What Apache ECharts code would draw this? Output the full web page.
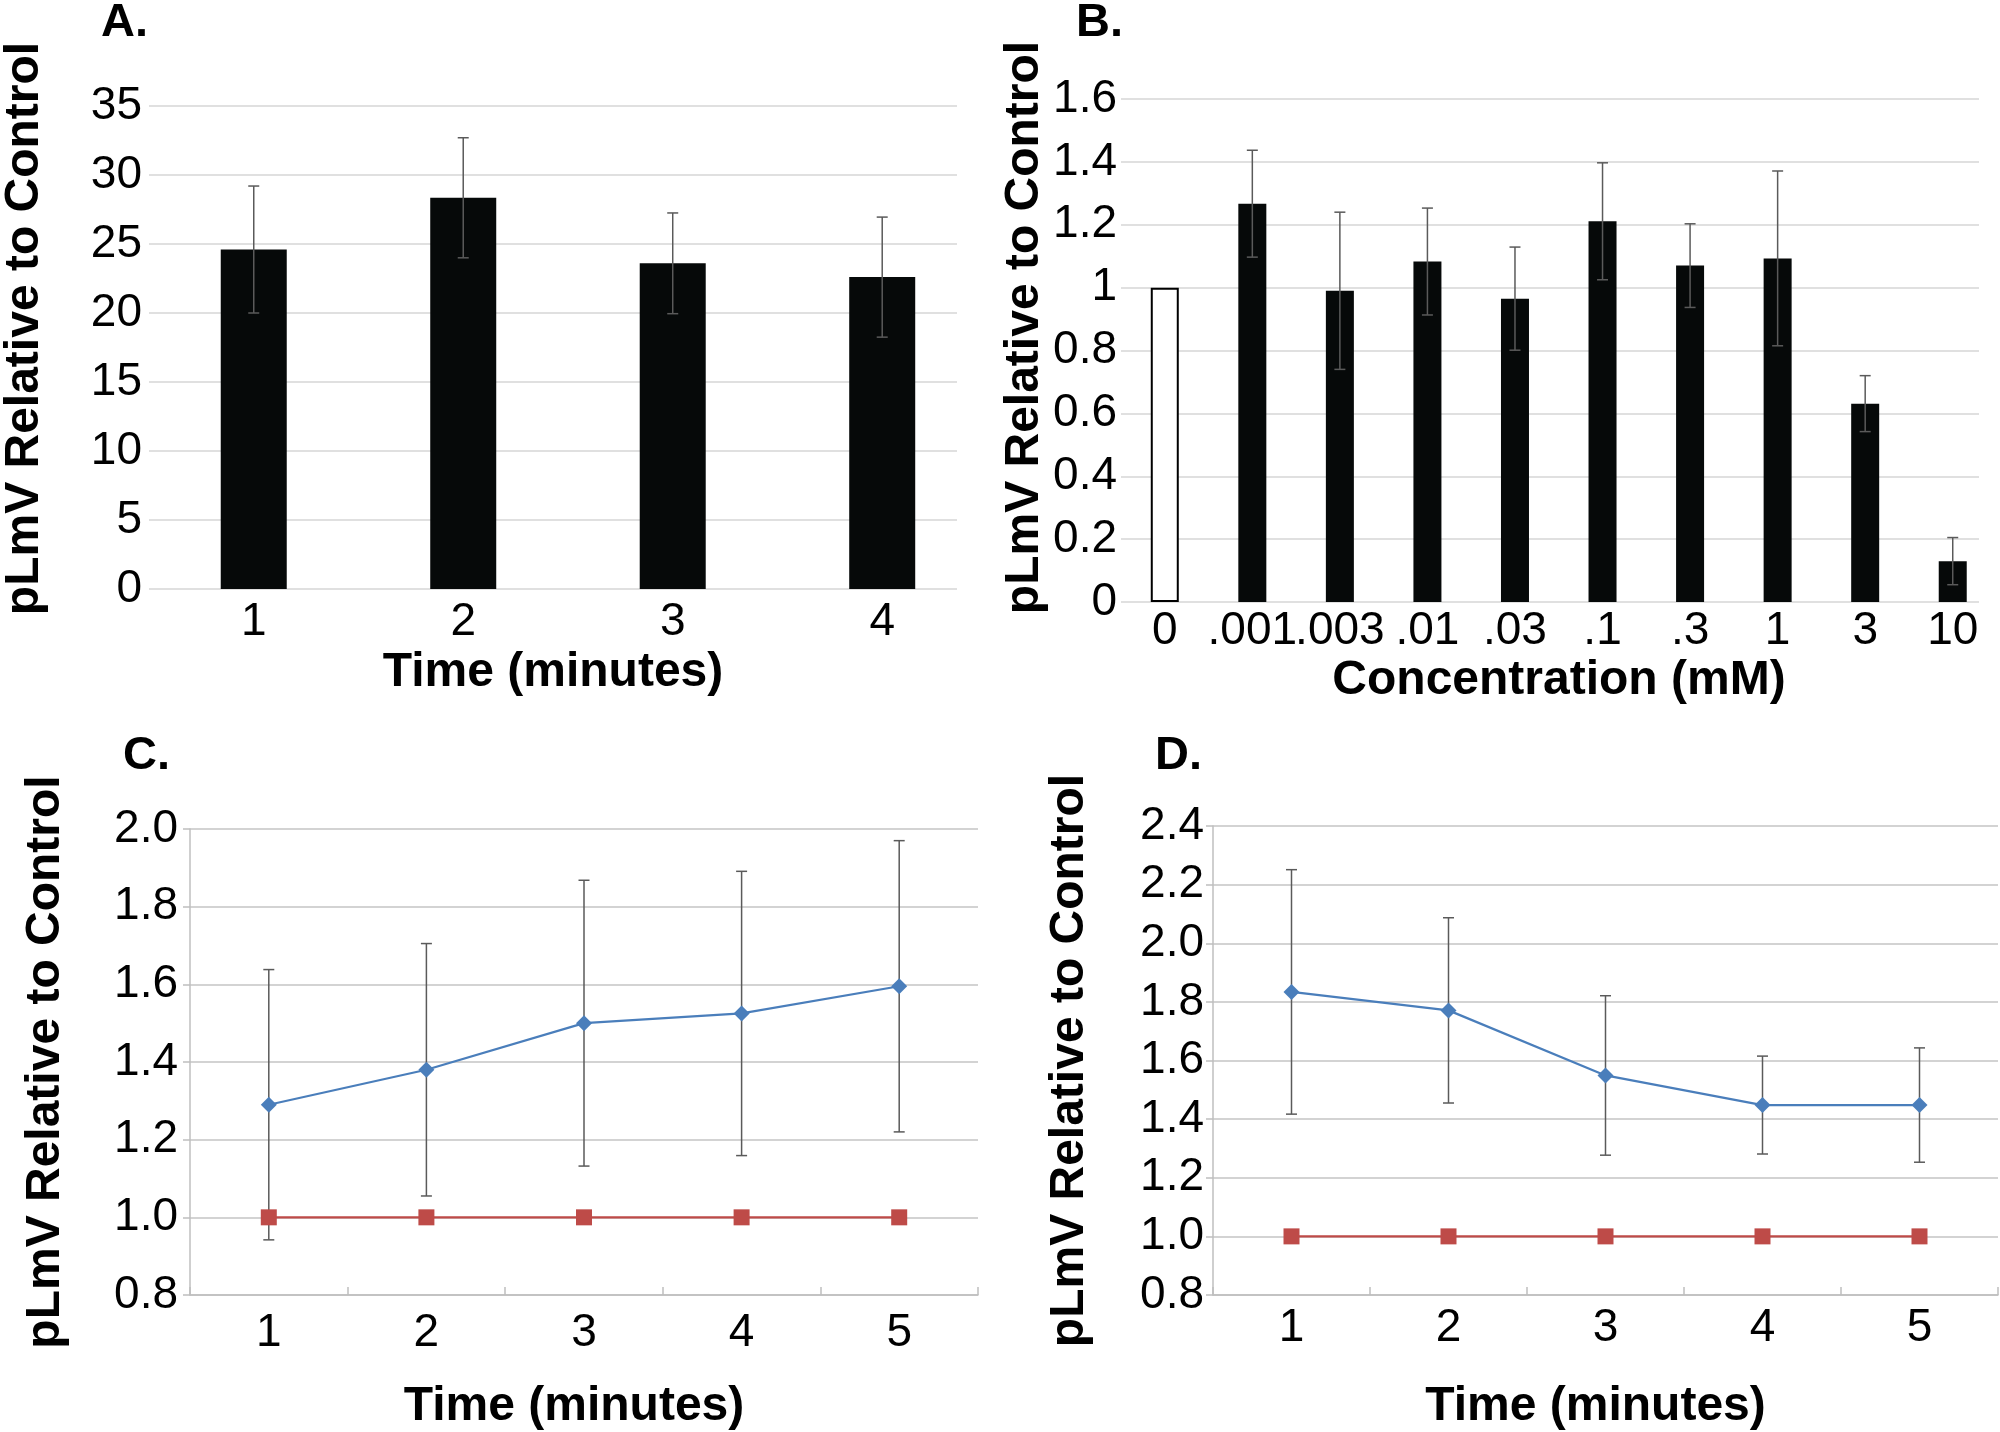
<!DOCTYPE html>
<html>
<head>
<meta charset="utf-8">
<script src="https://cdn.jsdelivr.net/npm/echarts@6/dist/echarts.min.js"></script>
<style>html,body{margin:0;padding:0;background:#fff;}#c{width:2000px;height:1432px;}</style>
</head>
<body>
<div id="c"></div>
<script>
// ---- data ----
const timeA = ['1', '2', '3', '4'];
const meanA = [24.6, 28.35, 23.6, 22.6];
const errA = [4.6, 4.35, 3.65, 4.35];

const concB = ['0', '.001', '.003', '.01', '.03', '.1', '.3', '1', '3', '10'];
const meanB = [1.0, 1.267, 0.99, 1.083, 0.965, 1.211, 1.07, 1.093, 0.631, 0.13];
const errB = [0, 0.17, 0.25, 0.17, 0.164, 0.186, 0.133, 0.278, 0.089, 0.075];

const timeCD = ['1', '2', '3', '4', '5'];
const meanC = [1.29, 1.38, 1.50, 1.525, 1.595];
const errC = [0.348, 0.325, 0.368, 0.366, 0.375];
const ctrlC = [1.0, 1.0, 1.0, 1.0, 1.0];

const meanD = [1.834, 1.771, 1.549, 1.448, 1.448];
const errD = [0.417, 0.316, 0.272, 0.167, 0.195];
const ctrlD = [1.0, 1.0, 1.0, 1.0, 1.0];

const yTitle = 'pLmV Relative to Control';

// ---- styles ----
const FONT = "'Liberation Sans', Arial, Helvetica, sans-serif";
const tickFont = { fontFamily: FONT, fontSize: 46, color: '#000' };
const nameFont = (pad) => ({ fontFamily: FONT, fontSize: 48, fontWeight: 'bold', color: '#000', padding: pad || 0 });
const BAR = '#060909';
const BLUE = '#4a7ebb';
const RED = '#be4b48';
const ERR = '#5a5a5a';

function errRender(halfCap) {
  return function (params, api) {
    const x = api.value(0), lo = api.value(1), hi = api.value(2);
    if (!(hi - lo > 0)) return;
    const t = api.coord([x, hi]);
    const b = api.coord([x, lo]);
    const st = { stroke: ERR, lineWidth: 1.5 };
    return {
      type: 'group',
      children: [
        { type: 'line', shape: { x1: t[0], y1: t[1], x2: b[0], y2: b[1] }, style: st },
        { type: 'line', shape: { x1: t[0] - halfCap, y1: t[1], x2: t[0] + halfCap, y2: t[1] }, style: st },
        { type: 'line', shape: { x1: b[0] - halfCap, y1: b[1], x2: b[0] + halfCap, y2: b[1] }, style: st }
      ]
    };
  };
}

const chart = echarts.init(document.getElementById('c'), null, { renderer: 'canvas', width: 2000, height: 1432 });

const letter = (t, left, top) => ({
  text: t, left: left, top: top, padding: 0,
  textStyle: { fontFamily: FONT, fontSize: 47, fontWeight: 'bold', color: '#000', lineHeight: 47 }
});

const option = {
  animation: false,
  backgroundColor: '#fff',
  title: [
    letter('A.', 101, 0),
    letter('B.', 1076, 0),
    letter('C.', 123, 733),
    letter('D.', 1155, 733)
  ],
  grid: [
    { left: 147, top: 106, width: 810, height: 483 },
    { left: 1121, top: 99, width: 858, height: 503 },
    { left: 190, top: 829, width: 788, height: 469 },
    { left: 1213, top: 826, width: 785, height: 469 }
  ],
  xAxis: [
    {
      gridIndex: 0, type: 'value', min: 0.5, max: 4.357,
      axisLine: { show: false }, axisTick: { show: false }, splitLine: { show: false },
      axisLabel: Object.assign({ customValues: [1, 2, 3, 4], formatter: v => timeA[Math.round(v) - 1], margin: 10 }, tickFont),
      name: 'Time (minutes)', nameLocation: 'middle', nameGap: 60, nameTextStyle: nameFont(0)
    },
    {
      gridIndex: 1, type: 'value', min: -0.5, max: 9.3,
      axisLine: { show: false }, axisTick: { show: false }, splitLine: { show: false },
      axisLabel: Object.assign({ customValues: [0, 1, 2, 3, 4, 5, 6, 7, 8, 9], formatter: v => concB[Math.round(v)], margin: 6 }, tickFont),
      name: 'Concentration (mM)', nameLocation: 'middle', nameGap: 55, nameTextStyle: nameFont([0, 0, 0, 18])
    },
    {
      gridIndex: 2, type: 'category', data: timeCD, boundaryGap: true,
      axisLine: { show: true, lineStyle: { color: '#bfbfbf', width: 1.5 } },
      axisTick: { show: true, inside: true, length: 8, lineStyle: { color: '#bfbfbf', width: 1.5 } },
      splitLine: { show: false },
      axisLabel: Object.assign({ margin: 15 }, tickFont),
      name: 'Time (minutes)', nameLocation: 'middle', nameGap: 88, nameTextStyle: nameFont([0, 20, 0, 0])
    },
    {
      gridIndex: 3, type: 'category', data: timeCD, boundaryGap: true,
      axisLine: { show: true, lineStyle: { color: '#bfbfbf', width: 1.5 } },
      axisTick: { show: true, inside: true, length: 8, lineStyle: { color: '#bfbfbf', width: 1.5 } },
      splitLine: { show: false },
      axisLabel: Object.assign({ margin: 10 }, tickFont),
      name: 'Time (minutes)', nameLocation: 'middle', nameGap: 88, nameTextStyle: nameFont([0, 20, 0, 0])
    }
  ],
  yAxis: [
    {
      gridIndex: 0, type: 'value', min: 0, max: 35, interval: 5,
      axisLine: { show: false }, axisTick: { show: false },
      splitLine: { show: true, lineStyle: { color: '#d6d6d6', width: 1.5 } },
      axisLabel: Object.assign({ margin: 7 }, tickFont),
      name: yTitle, nameLocation: 'middle', nameGap: 100, nameTextStyle: nameFont([0, 0, 0, 38])
    },
    {
      gridIndex: 1, type: 'value', min: 0, max: 1.6, interval: 0.2,
      axisLine: { show: false }, axisTick: { show: false },
      splitLine: { show: true, lineStyle: { color: '#d6d6d6', width: 1.5 } },
      axisLabel: Object.assign({ margin: 4 }, tickFont),
      name: yTitle, nameLocation: 'middle', nameGap: 69, nameTextStyle: nameFont([0, 0, 0, 46])
    },
    {
      gridIndex: 2, type: 'value', min: 0.8, max: 2.0, interval: 0.2,
      axisLine: { show: true, lineStyle: { color: '#bfbfbf', width: 1.5 } },
      axisTick: { show: true, inside: false, length: 7, lineStyle: { color: '#bfbfbf', width: 1.5 } },
      splitLine: { show: true, lineStyle: { color: '#c4c4c4', width: 1.5 } },
      axisLabel: Object.assign({ margin: 12, formatter: v => v.toFixed(1) }, tickFont),
      name: yTitle, nameLocation: 'middle', nameGap: 120, nameTextStyle: nameFont(0)
    },
    {
      gridIndex: 3, type: 'value', min: 0.8, max: 2.4, interval: 0.2,
      axisLine: { show: true, lineStyle: { color: '#bfbfbf', width: 1.5 } },
      axisTick: { show: true, inside: false, length: 7, lineStyle: { color: '#bfbfbf', width: 1.5 } },
      splitLine: { show: true, lineStyle: { color: '#c4c4c4', width: 1.5 } },
      axisLabel: Object.assign({ margin: 9, formatter: v => v.toFixed(1) }, tickFont),
      name: yTitle, nameLocation: 'middle', nameGap: 119, nameTextStyle: nameFont(0)
    }
  ],
  series: [
    {
      type: 'bar', xAxisIndex: 0, yAxisIndex: 0, barWidth: 66,
      itemStyle: { color: BAR },
      data: meanA.map((v, i) => [i + 1, v])
    },
    {
      type: 'custom', xAxisIndex: 0, yAxisIndex: 0, z: 5,
      renderItem: errRender(5.5),
      data: meanA.map((v, i) => [i + 1, v - errA[i], v + errA[i]])
    },
    {
      type: 'bar', xAxisIndex: 1, yAxisIndex: 1, barWidth: 28,
      itemStyle: { color: BAR },
      data: meanB.map((v, i) => i === 0
        ? { value: [i, v], itemStyle: { color: '#ffffff', borderColor: '#000', borderWidth: 2 } }
        : [i, v])
    },
    {
      type: 'custom', xAxisIndex: 1, yAxisIndex: 1, z: 5,
      renderItem: errRender(5.5),
      data: meanB.map((v, i) => [i, v - errB[i], v + errB[i]])
    },
    {
      type: 'custom', xAxisIndex: 2, yAxisIndex: 2, z: 1,
      renderItem: errRender(5.5),
      data: meanC.map((v, i) => [i, v - errC[i], v + errC[i]])
    },
    {
      type: 'line', xAxisIndex: 2, yAxisIndex: 2, z: 3,
      symbol: 'diamond', symbolSize: 16,
      lineStyle: { color: BLUE, width: 2.2 }, itemStyle: { color: BLUE },
      data: meanC
    },
    {
      type: 'line', xAxisIndex: 2, yAxisIndex: 2, z: 3,
      symbol: 'rect', symbolSize: 16,
      lineStyle: { color: RED, width: 2.2 }, itemStyle: { color: RED },
      data: ctrlC
    },
    {
      type: 'custom', xAxisIndex: 3, yAxisIndex: 3, z: 1,
      renderItem: errRender(5.5),
      data: meanD.map((v, i) => [i, v - errD[i], v + errD[i]])
    },
    {
      type: 'line', xAxisIndex: 3, yAxisIndex: 3, z: 3,
      symbol: 'diamond', symbolSize: 16,
      lineStyle: { color: BLUE, width: 2.2 }, itemStyle: { color: BLUE },
      data: meanD
    },
    {
      type: 'line', xAxisIndex: 3, yAxisIndex: 3, z: 3,
      symbol: 'rect', symbolSize: 16,
      lineStyle: { color: RED, width: 2.2 }, itemStyle: { color: RED },
      data: ctrlD
    }
  ]
};
chart.setOption(option);
</script>
</body>
</html>
